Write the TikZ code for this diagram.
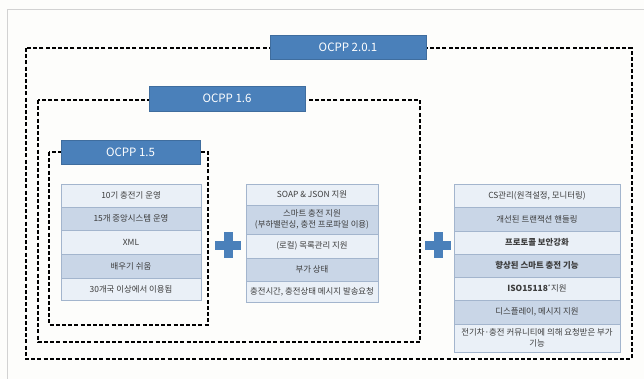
\documentclass[tikz,border=0pt]{standalone}
\usepackage{fontspec}
\setmainfont{Noto Sans CJK KR}
\definecolor{lblue}{HTML}{4A80BA}
\definecolor{rowlight}{HTML}{EAF0F7}
\definecolor{rowdark}{HTML}{C9D6E7}
\definecolor{rowline}{HTML}{A3B5CD}
\definecolor{txt}{HTML}{3C3C3C}
\definecolor{bg}{HTML}{FDFDFB}
\tikzset{
  frame/.style={dash pattern=on 4pt off 2.2pt, line width=1.4pt, black},
  verlabel/.style={fill=lblue, draw=lblue!85!black, line width=0.4pt, text=white, inner sep=0pt, font=\fontsize{11.5}{13}\selectfont},
  rowbase/.style={draw=rowline, line width=0.6pt, inner sep=0pt, text=txt, align=center, font=\fontsize{8.4}{10.5}\selectfont},
  lrow/.style={rowbase, fill=rowlight},
  drow/.style={rowbase, fill=rowdark},
  plusmark/.style={fill=lblue},
}
\begin{document}
\begin{tikzpicture}[x=1pt,y=-1pt]
\fill[bg] (0,0) rectangle (644,379);
\useasboundingbox (0,0) rectangle (644,379);
\draw[gray!35, line width=0.8pt] (7,379) -- (7,9) -- (644,9);

% dashed frames
\draw[frame] (26,48) rectangle (632,359);
\draw[frame] (38,100) rectangle (420,342);
\draw[frame] (49,152) rectangle (208,325);

% version labels
\node[verlabel, minimum width=156pt, minimum height=24pt] (v201) at (348,47) {OCPP 2.0.1};
\node[verlabel, minimum width=156pt, minimum height=25pt] (v16) at (227,98.5) {OCPP 1.6};
\node[verlabel, minimum width=139pt, minimum height=24pt] (v15) at (130.5,152) {OCPP 1.5};

% table 1
\begin{scope}[every node/.append style={minimum width=140pt}]
\node[lrow, minimum height=23pt] (a1) at (131,195.5) {10기 충전기 운영};
\node[drow, minimum height=23pt] (a2) at (131,218.5) {15개 중앙시스템 운영};
\node[lrow, minimum height=24pt] (a3) at (131,242) {XML};
\node[drow, minimum height=24pt] (a4) at (131,266) {배우기 쉬움};
\node[lrow, minimum height=22pt] (a5) at (131,289) {30개국 이상에서 이용됨};
\end{scope}

% table 2
\begin{scope}[every node/.append style={minimum width=132pt}]
\node[lrow, minimum height=21pt] (b1) at (312,194.5) {SOAP \& JSON 지원};
\node[drow, minimum height=29pt] (b2) at (312,219.5) {스마트 충전 지원\\(부하밸런싱, 충전 프로파일 이용)};
\node[lrow, minimum height=24pt] (b3) at (312,246) {(로컬) 목록관리 지원};
\node[drow, minimum height=23pt] (b4) at (312,269.5) {부가 상태};
\node[lrow, minimum height=21pt] (b5) at (312,291.5) {충전시간, 충전상태 메시지 발송요청};
\end{scope}

% table 3
\begin{scope}[every node/.append style={minimum width=166pt}]
\node[lrow, minimum height=23pt] (c1) at (537,195.5) {CS관리(원격설정, 모니터링)};
\node[drow, minimum height=24pt] (c2) at (537,219) {개선된 트랜잭션 핸들링};
\node[lrow, minimum height=23pt] (c3) at (537,242.5) {\bfseries 프로토콜 보안강화};
\node[drow, minimum height=23pt] (c4) at (537,265.5) {\bfseries 향상된 스마트 충전 기능};
\node[lrow, minimum height=23pt] (c5) at (537,288.5) {\textbf{ISO15118}\textsuperscript{*}지원};
\node[drow, minimum height=24pt] (c6) at (537,312) {디스플레이, 메시지 지원};
\node[lrow, minimum height=28pt] (c7) at (537,338) {전기차·충전 커뮤니티에 의해 요청받은 부가\\기능};
\end{scope}

% plus signs
\fill[plusmark] (215,240.5) rectangle (241,249.5);
\fill[plusmark] (223.5,232) rectangle (232.5,258);
\fill[plusmark] (425,240.5) rectangle (451,249.5);
\fill[plusmark] (433.5,232) rectangle (442.5,258);
\end{tikzpicture}
\end{document}
